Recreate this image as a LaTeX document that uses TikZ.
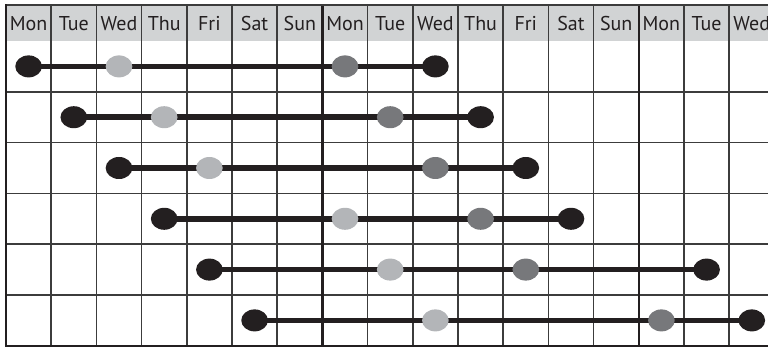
\documentclass[tikz,border=0pt]{standalone}
\usepackage{fontspec}
\setmainfont{PT Sans}
\usetikzlibrary{shapes.geometric}
\definecolor{inkblack}{HTML}{231F20}
\definecolor{headgray}{HTML}{D1D3D4}
\definecolor{earlygray}{HTML}{B3B5B8}
\definecolor{lategray}{HTML}{77787B}
\definecolor{gridgray}{HTML}{3C3C3C}
\pgfdeclarelayer{bg}
\pgfsetlayers{bg,main}

\begin{document}
\begin{tikzpicture}[
    x=0.75pt, y=-0.75pt,
    daylabel/.style={font=\fontsize{15}{16}\selectfont, text=inkblack, inner sep=0pt},
    dot/.style={ellipse, inner sep=0pt, minimum width=20pt, minimum height=16.5pt},
    endday/.style={dot, fill=inkblack},
    earlyday/.style={dot, fill=earlygray},
    lateday/.style={dot, fill=lategray},
    thinrule/.style={gridgray, line width=1.1pt},
    weekrule/.style={inkblack, line width=1.9pt},
    bar/.style={inkblack, line width=4.2pt}
]
\useasboundingbox (0,0) rectangle (768,352);

% header labels
\foreach \d [count=\i from 0] in {Mon,Tue,Wed,Thu,Fri,Sat,Sun,Mon,Tue,Wed,Thu,Fri,Sat,Sun,Mon,Tue,Wed}{
    \node[daylabel] (h\i) at ({6+45.2*(\i+0.5)},23.5) {\d};
}

% dots: start, first check, second check, end
\foreach \r/\a/\b/\c/\e in {0/0/2/7/9,1/1/3/8/10,2/2/4/9/11,3/3/7/10/12,4/4/8/11/15,5/5/9/14/16}{
    \node[endday] (s\r) at ({6+45.2*(\a+0.5)},{41+50.8*(\r+0.5)}) {};
    \node[earlyday] (f\r) at ({6+45.2*(\b+0.5)},{41+50.8*(\r+0.5)}) {};
    \node[lateday] (l\r) at ({6+45.2*(\c+0.5)},{41+50.8*(\r+0.5)}) {};
    \node[endday] (e\r) at ({6+45.2*(\e+0.5)},{41+50.8*(\r+0.5)}) {};
}

\begin{pgfonlayer}{bg}
% header band
\fill[headgray] (6,5) rectangle (768,41);

% grid
\foreach \r in {1,...,5}{
    \draw[thinrule] (6,{41+50.8*\r}) -- (768,{41+50.8*\r});
}
\foreach \k in {1,...,16}{
    \draw[thinrule] ({6+45.2*\k},5) -- ({6+45.2*\k},346);
}
\draw[weekrule] (322.4,5) -- (322.4,346);
\draw[weekrule] (638.8,5) -- (638.8,346);

% frame
\draw[gridgray, line width=1.4pt] (6,5) -- (768,5);
\draw[inkblack, line width=2.2pt] (6,4.3) -- (6,346) -- (768,346);

% bars
\foreach \r in {0,...,5}{
    \draw[bar] (s\r.center) -- (e\r.center);
}
\end{pgfonlayer}

\end{tikzpicture}
\end{document}
